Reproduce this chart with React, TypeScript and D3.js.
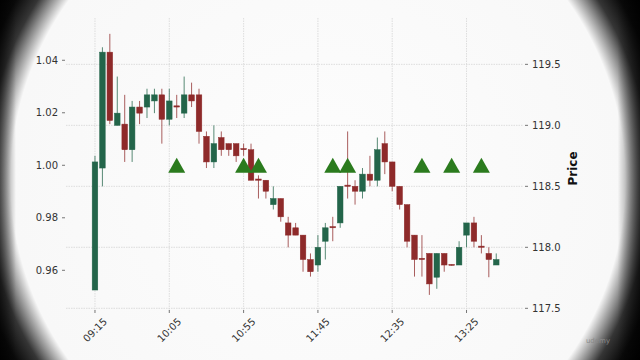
import React from 'react';
import { scaleLinear, line } from 'd3';

// 5-minute candles starting 09:15
const opens = [117.65, 118.65, 119.6, 119.0, 119.01, 118.8, 119.15, 119.15, 119.2, 119.25, 119.05, 119.16, 119.1, 119.25, 119.25, 118.91, 118.7, 118.9, 118.85, 118.85, 118.81, 118.8, 118.56, 118.55, 118.35, 118.4, 118.2, 118.16, 118.1, 117.9, 117.855, 118.05, 118.17, 118.2, 118.51, 118.5, 118.46, 118.6, 118.55, 118.85, 118.7, 118.5, 118.35, 118.1, 117.91, 117.95, 117.755, 117.95, 117.86, 117.855, 118.1, 118.2, 118.01, 117.95, 117.855];
const highs = [118.75, 119.64, 119.75, 119.4, 119.25, 119.2, 119.2, 119.3, 119.3, 119.3, 119.3, 119.25, 119.4, 119.35, 119.3, 118.95, 119.0, 118.95, 118.85, 118.85, 118.85, 118.85, 118.59, 118.55, 118.5, 118.4, 118.25, 118.2, 118.1, 117.95, 118.1, 118.2, 118.25, 118.5, 118.95, 118.55, 118.65, 118.75, 118.9, 118.95, 118.7, 118.5, 118.35, 118.1, 118.1, 117.95, 117.95, 117.95, 117.86, 118.05, 118.2, 118.25, 118.1, 118.0, 117.95];
const lows = [117.65, 118.5, 119.01, 119.0, 118.7, 118.7, 119.01, 119.06, 119.1, 118.85, 119.0, 119.06, 119.06, 119.15, 118.85, 118.65, 118.65, 118.75, 118.75, 118.7, 118.75, 118.55, 118.4, 118.4, 118.31, 118.21, 118.0, 118.1, 117.8, 117.76, 117.8, 117.9, 118.05, 118.16, 118.4, 118.35, 118.4, 118.5, 118.5, 118.6, 118.46, 118.31, 118.0, 117.76, 117.76, 117.61, 117.66, 117.8, 117.85, 117.855, 118.0, 118.0, 117.95, 117.755, 117.855];
const closes = [118.7, 119.6, 119.04, 119.1, 118.8, 119.15, 119.1, 119.25, 119.25, 119.05, 119.2, 119.15, 119.25, 119.2, 118.95, 118.7, 118.85, 118.8, 118.8, 118.75, 118.8, 118.55, 118.55, 118.46, 118.4, 118.25, 118.1, 118.1, 117.9, 117.8, 118.0, 118.16, 118.16, 118.5, 118.5, 118.46, 118.6, 118.55, 118.8, 118.7, 118.5, 118.35, 118.05, 117.9, 117.9, 117.7, 117.95, 117.855, 117.855, 118.0, 118.2, 118.05, 118.0, 117.9, 117.9];

// buy signals plotted on the secondary (left) axis
const signalIdx = [11, 20, 22, 32, 34, 44, 48, 52];
const signalVal = [1.0, 1.0, 1.0, 1.0, 1.0, 1.0, 1.0, 1.0];

const xTickIdx = [0, 10, 20, 30, 40, 50];
const xTickLabels = ['09:15', '10:05', '10:55', '11:45', '12:35', '13:25'];
const priceTicks = [117.5, 118.0, 118.5, 119.0, 119.5];
const signalTicks = [0.96, 0.98, 1.0, 1.02, 1.04];

const W = 640;
const H = 360;
const left = 66;
const right = 523;
const top = 18;
const bottom = 311;

const upColor = '#23654a';
const downColor = '#8e2a2a';
const font = 'DejaVu Sans, sans-serif';

const App = () => {
  const x = scaleLinear().domain([-3.9, 57.6]).range([left, right]);
  const y = scaleLinear().domain([117.478, 119.88]).range([bottom, top]);
  const y2 = scaleLinear().domain([0.9445, 1.0561]).range([bottom, top]);

  const bodyW = 5.6;
  const tri = line();

  return (
    <svg width={W} height={H} style={{ position: 'absolute', left: 0, top: 0 }}>
      <defs>
        <radialGradient id="vig" gradientUnits="userSpaceOnUse" cx={318} cy={180} r={370}>
          <stop offset="0" stopColor="#fdfdfd" />
          <stop offset="0.83" stopColor="#f8f8f8" />
          <stop offset="0.87" stopColor="#8a8a8a" />
          <stop offset="0.9" stopColor="#353535" />
          <stop offset="0.95" stopColor="#0a0a0a" />
          <stop offset="1" stopColor="#000" />
        </radialGradient>
        <linearGradient id="edges" x1="0" x2="1" y1="0" y2="0">
          <stop offset="0" stopColor="#000" stopOpacity={0.55} />
          <stop offset="0.025" stopColor="#000" stopOpacity={0} />
          <stop offset="0.965" stopColor="#000" stopOpacity={0} />
          <stop offset="1" stopColor="#000" stopOpacity={0.65} />
        </linearGradient>
      </defs>
      <rect x={0} y={0} width={W} height={H} fill="url(#vig)" />
      <rect x={0} y={0} width={W} height={H} fill="url(#edges)" />

      {/* grid */}
      <g stroke="#d6d6d6" strokeWidth={0.8} strokeDasharray="1.5,1">
        {priceTicks.map((t) => (
          <line key={'h' + t} x1={left} x2={right} y1={y(t)} y2={y(t)} />
        ))}
        {xTickIdx.map((i) => (
          <line key={'v' + i} x1={x(i)} x2={x(i)} y1={top} y2={bottom} />
        ))}
      </g>

      {/* candles */}
      {opens.map((o, i) => {
        const c = closes[i];
        const col = c >= o ? upColor : downColor;
        const yt = y(Math.max(o, c));
        const yb = y(Math.min(o, c));
        return (
          <g key={i}>
            <line x1={x(i)} x2={x(i)} y1={y(highs[i])} y2={y(lows[i])} stroke={col} strokeWidth={1} opacity={0.75} />
            <rect x={x(i) - bodyW / 2} y={yt} width={bodyW} height={Math.max(yb - yt, 1)} fill={col} stroke={col} strokeWidth={0.5} />
          </g>
        );
      })}

      {/* signals */}
      {signalIdx.map((idx, k) => {
        const cx = x(idx);
        const cy = y2(signalVal[k]);
        const d = tri([[cx, cy - 7.5], [cx - 8.5, cy + 7.5], [cx + 8.5, cy + 7.5]]) + 'Z';
        return <path key={'s' + k} d={d} fill="#2b7b1e" />;
      })}

      {/* left axis */}
      {signalTicks.map((t) => (
        <g key={'l' + t}>
          <line x1={left - 4} x2={left - 1} y1={y2(t)} y2={y2(t)} stroke="#555" strokeWidth={0.8} />
          <text x={left - 8} y={y2(t)} dy="0.35em" textAnchor="end" fontFamily={font} fontSize={10} fill="#333">
            {t.toFixed(2)}
          </text>
        </g>
      ))}

      {/* right axis */}
      {priceTicks.map((t) => (
        <g key={'r' + t}>
          <line x1={right + 2} x2={right + 5} y1={y(t)} y2={y(t)} stroke="#555" strokeWidth={0.8} />
          <text x={right + 9} y={y(t)} dy="0.35em" textAnchor="start" fontFamily={font} fontSize={10} fill="#333">
            {t.toFixed(1)}
          </text>
        </g>
      ))}
      <text
        transform={`translate(577,${(top + bottom) / 2 + 4}) rotate(-90)`}
        textAnchor="middle"
        fontFamily={font}
        fontSize={12}
        fontWeight="bold"
        fill="#111"
      >
        Price
      </text>

      {/* x axis */}
      {xTickIdx.map((i, k) => (
        <g key={'x' + i}>
          <line x1={x(i)} x2={x(i)} y1={bottom - 1} y2={bottom + 2} stroke="#555" strokeWidth={0.8} />
          <text
            transform={`translate(${x(i)},${bottom + 19}) rotate(-45)`}
            textAnchor="middle"
            dy="0.35em"
            fontFamily={font}
            fontSize={10}
            fill="#333"
          >
            {xTickLabels[k]}
          </text>
        </g>
      ))}

      <text x={598} y={343} textAnchor="middle" fontFamily={font} fontSize={7} fill="#8a8a8a">
        udemy
      </text>
    </svg>
  );
};

export default App;
